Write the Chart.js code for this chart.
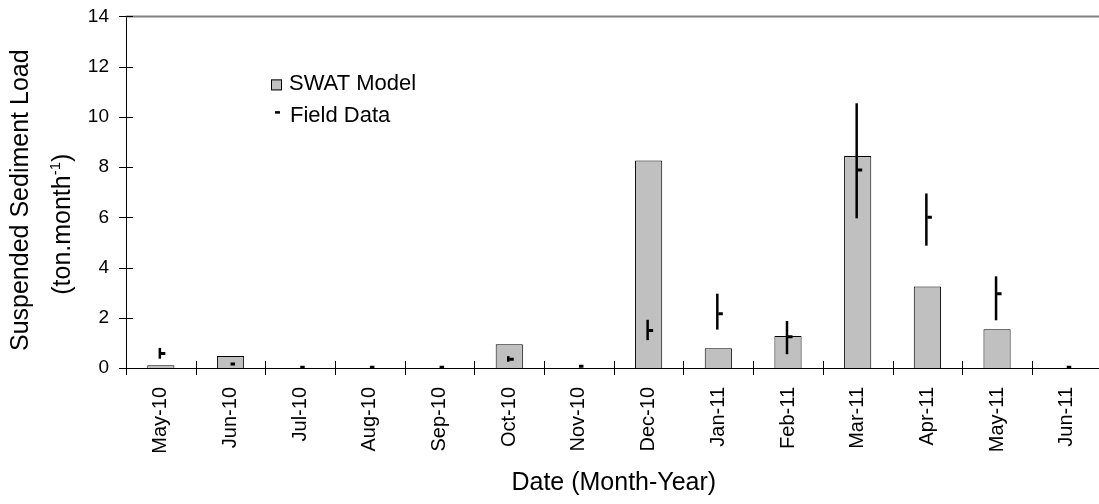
<!DOCTYPE html>
<html>
<head>
<meta charset="utf-8">
<script src="https://cdn.jsdelivr.net/npm/chart.js@4.4.1/dist/chart.umd.min.js"></script>
<style>
    html, body { margin: 0; padding: 0; background: #fff; overflow: hidden; }
    #wrap { width: 1110px; height: 516px; margin-top: -12px; }
</style>
</head>
<body>
<div id="wrap"><canvas id="sedChart"></canvas></div>
<script>
// =========================
// DATA
// =========================
const months = ['May-10', 'Jun-10', 'Jul-10', 'Aug-10', 'Sep-10', 'Oct-10', 'Nov-10',
                'Dec-10', 'Jan-11', 'Feb-11', 'Mar-11', 'Apr-11', 'May-11', 'Jun-11'];

const swatModel = [0.11, 0.48, 0, 0, 0, 0.95, 0, 8.26, 0.79, 1.27, 8.44, 3.25, 1.54, 0];

const fieldData = [0.58, 0.16, 0.03, 0.03, 0.03, 0.35, 0.07, 1.49, 2.16, 1.24, 7.88, 6.0, 2.96, 0.03];
const fieldLow  = [0.37, 0.16, 0.03, 0.03, 0.03, 0.25, 0.07, 1.11, 1.53, 0.55, 5.96, 4.87, 1.90, 0.03];
const fieldHigh = [0.80, 0.16, 0.03, 0.03, 0.03, 0.47, 0.07, 1.92, 2.96, 1.87, 10.54, 6.95, 3.65, 0.03];

const FONT = "Arial, 'Liberation Sans', sans-serif";

// =========================
// PLUGIN: frame, cross ticks, error bars, legend, y title
// =========================
const extras = {
    id: 'extras',
    afterDatasetsDraw(chart) {
        const ctx = chart.ctx;
        const meta = chart.getDatasetMeta(1);
        const y = chart.scales.y;

        // error bars for field data
        ctx.save();
        ctx.strokeStyle = '#000';
        ctx.lineWidth = 2.5;
        meta.data.forEach((pt, i) => {
            const lo = y.getPixelForValue(fieldLow[i]);
            const hi = y.getPixelForValue(fieldHigh[i]);
            if (Math.abs(lo - hi) < 1) return;
            ctx.beginPath();
            ctx.moveTo(pt.x - 1, lo);
            ctx.lineTo(pt.x - 1, hi);
            ctx.stroke();
        });
        ctx.restore();
    },
    afterDraw(chart) {
        const ctx = chart.ctx;
        const area = chart.chartArea;
        const x = chart.scales.x;
        const y = chart.scales.y;

        ctx.save();
        // top frame line
        ctx.strokeStyle = '#808080';
        ctx.lineWidth = 2;
        ctx.beginPath();
        ctx.moveTo(area.left, area.top);
        ctx.lineTo(chart.width, area.top);
        ctx.stroke();

        // cross ticks
        ctx.strokeStyle = '#000';
        ctx.lineWidth = 1;
        const half = (x.getPixelForValue(1) - x.getPixelForValue(0)) / 2;
        for (let i = 0; i <= months.length; i++) {
            const px = Math.round(x.getPixelForValue(i) - half) + 0.5;
            ctx.beginPath();
            ctx.moveTo(px, area.bottom - 7);
            ctx.lineTo(px, area.bottom + 7);
            ctx.stroke();
        }
        y.ticks.forEach(t => {
            const py = Math.round(y.getPixelForValue(t.value)) + 0.5;
            ctx.beginPath();
            ctx.moveTo(area.left - 7, py);
            ctx.lineTo(area.left + 7, py);
            ctx.stroke();
        });

        // legend
        const lx = area.left + 145;
        const ly = area.top + 63;
        ctx.fillStyle = '#c0c0c0';
        ctx.fillRect(lx, ly, 11, 11);
        ctx.strokeRect(lx + 0.5, ly + 0.5, 10, 10);

        ctx.lineWidth = 2.5;
        ctx.beginPath();
        ctx.moveTo(lx + 4, ly + 33);
        ctx.lineTo(lx + 9, ly + 33);
        ctx.stroke();

        ctx.fillStyle = '#000';
        ctx.font = '22px ' + FONT;
        ctx.textBaseline = 'middle';
        ctx.textAlign = 'left';
        ctx.fillText(chart.data.datasets[0].label, lx + 18, ly + 5);
        ctx.fillText(chart.data.datasets[1].label, lx + 19, ly + 37);
        ctx.restore();

        // y axis title, with a real superscript
        const mid = (area.top + area.bottom) / 2;
        ctx.save();
        ctx.fillStyle = '#000';
        ctx.textBaseline = 'middle';
        ctx.textAlign = 'center';
        ctx.font = '25px ' + FONT;
        ctx.translate(21, mid + 8);
        ctx.rotate(-Math.PI / 2);
        ctx.fillText('Suspended Sediment Load', 0, 0);
        ctx.restore();

        ctx.save();
        ctx.fillStyle = '#000';
        ctx.textBaseline = 'middle';
        ctx.textAlign = 'left';
        ctx.font = '25px ' + FONT;
        const a = '(ton.month', b = '-1', c = ')';
        const wa = ctx.measureText(a).width;
        const wc = ctx.measureText(c).width;
        ctx.font = '15px ' + FONT;
        const wb = ctx.measureText(b).width;
        const start = -(wa + wb + wc) / 2;
        ctx.translate(63.5, mid + 32);
        ctx.rotate(-Math.PI / 2);
        ctx.font = '25px ' + FONT;
        ctx.fillText(a, start, 0);
        ctx.font = '15px ' + FONT;
        ctx.fillText(b, start + wa, -8);
        ctx.font = '25px ' + FONT;
        ctx.fillText(c, start + wa + wb, 0);
        ctx.restore();
    }
};

// =========================
// CHART
// =========================
const ctx = document.getElementById('sedChart').getContext('2d');

new Chart(ctx, {
    type: 'bar',
    data: {
        labels: months,
        datasets: [{
            type: 'bar',
            label: 'SWAT Model',
            data: swatModel,
            backgroundColor: '#c0c0c0',
            borderColor: '#000',
            borderWidth: 1,
            categoryPercentage: 1,
            barPercentage: 0.39,
            order: 2
        }, {
            type: 'line',
            label: 'Field Data',
            data: fieldData,
            showLine: false,
            pointStyle: 'dash',
            pointRadius: 4.5,
            pointBorderWidth: 3,
            pointBorderColor: '#000',
            pointBackgroundColor: '#000',
            order: 1
        }]
    },
    options: {
        responsive: true,
        maintainAspectRatio: false,
        animation: false,
        layout: { padding: { left: 0, top: 4, right: 4, bottom: 0 } },
        plugins: {
            legend: { display: false },
            tooltip: { enabled: false }
        },
        scales: {
            x: {
                grid: { display: false, drawTicks: false },
                border: { display: true, color: '#000', width: 1 },
                afterFit: s => { s.height = 136; },
                ticks: {
                    autoSkip: false,
                    minRotation: 90,
                    maxRotation: 90,
                    padding: 19,
                    color: '#000',
                    font: { family: FONT, size: 20 }
                },
                title: {
                    display: true,
                    text: 'Date (Month-Year)',
                    color: '#000',
                    padding: { top: 0, bottom: 6 },
                    font: { family: FONT, size: 25, lineHeight: 1.2 }
                }
            },
            y: {
                min: 0,
                max: 14,
                grid: { display: false, drawTicks: false },
                border: { display: true, color: '#000', width: 1 },
                afterFit: s => { s.width = 126; },
                ticks: {
                    stepSize: 2,
                    padding: 17,
                    color: '#000',
                    font: { family: FONT, size: 19 }
                },
                title: { display: false }
            }
        }
    },
    plugins: [extras]
});
</script>
</body>
</html>
